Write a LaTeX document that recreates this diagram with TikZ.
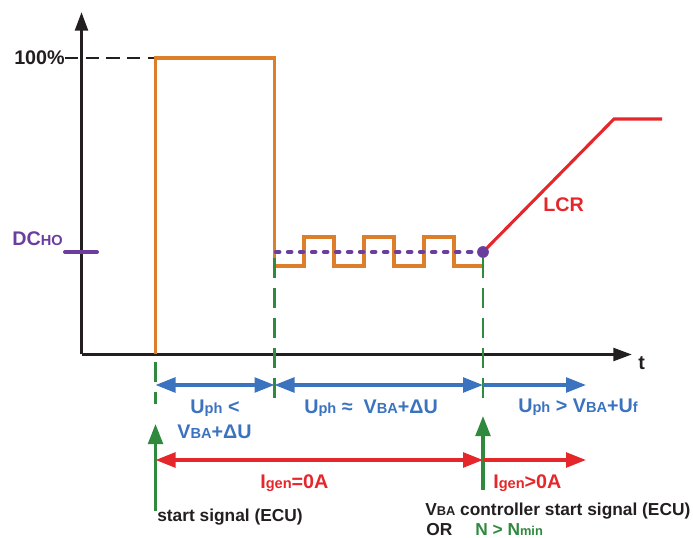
\documentclass[tikz,border=0pt]{standalone}
\usepackage{fontspec}
\usepackage{graphicx}
\setmainfont{Liberation Sans}
\usetikzlibrary{arrows.meta}

\definecolor{axisblack}{HTML}{231F20}
\definecolor{pwmorange}{HTML}{DD7E2A}
\definecolor{volblue}{HTML}{3B73BE}
\definecolor{curred}{HTML}{E5262B}
\definecolor{siggreen}{HTML}{2F8A3E}
\definecolor{dcpurple}{HTML}{6B3E9E}

% smaller letters that sit on the baseline (Uph, VBA, Igen ...)
\newcommand\smallpart[1]{\scalebox{0.74}{#1}}

\begin{document}
\begin{tikzpicture}[x=0.75pt,y=-0.75pt,
  lbl/.style={font=\bfseries\fontsize{14.8}{17}\selectfont, inner sep=0pt},
  note/.style={font=\bfseries\fontsize{13}{15}\selectfont, inner sep=0pt},
  axis/.style={draw=axisblack, line width=2.4pt, -{Triangle[length=14pt,width=9.5pt]}},
  pwm/.style={draw=pwmorange, line width=2.9pt, line join=miter},
  marker/.style={draw=siggreen, line width=1.7pt, dash pattern=on 15pt off 7.5pt},
  sigarrow/.style={draw=siggreen, line width=2.5pt, -{Triangle[length=15pt,width=11pt]}},
  uspan/.style={draw=volblue, line width=2.6pt, {Triangle[length=15pt,width=11pt]}-{Triangle[length=15pt,width=11pt]}},
  uray/.style={draw=volblue, line width=2.6pt, -{Triangle[length=15pt,width=11pt]}},
  ispan/.style={draw=curred, line width=2.6pt, {Triangle[length=15pt,width=11pt]}-{Triangle[length=15pt,width=11pt]}},
  iray/.style={draw=curred, line width=2.6pt, -{Triangle[length=15pt,width=11pt]}},
]
\useasboundingbox (0,0) rectangle (693,538);

% axes
\coordinate (origin) at (81.5,354.5);
\coordinate (ytop) at (81.5,12);
\coordinate (xend) at (632,354.5);
\draw[axis] (origin) -- (ytop);
\draw[axis] (origin) -- (xend);
\node[lbl, text=axisblack, anchor=base west] (tlabel) at (638,370) {t};

% 100 % level
\node[lbl, text=axisblack, anchor=base west] (pct) at (14,65) {100\%};
\coordinate (fullA) at (65,58);
\coordinate (fullB) at (155.5,58);
\draw[axisblack, line width=1.6pt, dash pattern=on 10pt off 5.5pt] (fullA) -- (fullB);

% DC_HO level
\node[lbl, text=dcpurple, anchor=base west] (dcho) at (12,246) {DC\smallpart{HO}};
\coordinate (dcA) at (65,252);
\coordinate (dcB) at (97,252);
\draw[dcpurple, line width=3pt, line cap=round] (dcA) -- (dcB);

% time markers
\coordinate (t0) at (155.5,354.5);
\coordinate (t1) at (274.5,266);
\coordinate (t2) at (483,252);

% excitation duty cycle
\draw[pwm] (t0) -- (155.5,58) -- (274.5,58) -- (274.5,266)
  -- (304,266) -- (304,237) -- (334,237) -- (334,266)
  -- (364,266) -- (364,237) -- (394,237) -- (394,266)
  -- (424,266) -- (424,237) -- (454,237) -- (454,266) -- (483,266);

% DC_HO dotted level and load response ramp
\coordinate (dotA) at (276,252);
\draw[dcpurple, line width=3.2pt, line cap=round, dash pattern=on 2.5pt off 6.5pt] (dotA) -- (t2);
\coordinate (lcrTop) at (614,119);
\coordinate (lcrEnd) at (662,119);
\draw[curred, line width=2.3pt] (t2) -- (lcrTop) -- (lcrEnd);
\fill[dcpurple] (t2) circle (4.4pt);
\node[lbl, text=curred, anchor=base west] (lcr) at (543,212) {LCR};

% green dashed markers
\coordinate (m0a) at (155.5,362);
\coordinate (m0b) at (155.5,404);
\coordinate (m1a) at (274.5,258);
\coordinate (m1b) at (274.5,400);
\coordinate (m2a) at (483,258);
\coordinate (m2b) at (483,402);
\draw[marker] (m0a) -- (m0b);
\draw[marker] (m1a) -- (m1b);
\draw[marker] (m2a) -- (m2b);

% start signal arrows
\coordinate (s0b) at (155.5,511);
\coordinate (s0t) at (155.5,424);
\coordinate (s2b) at (483,490);
\coordinate (s2t) at (483,416);
\draw[sigarrow] (s0b) -- (s0t);
\draw[sigarrow] (s2b) -- (s2t);

% phase voltage intervals
\coordinate (u0) at (155.5,385);
\coordinate (u1) at (274.5,385);
\coordinate (u2) at (483,385);
\coordinate (u3) at (586,385);
\draw[uspan] (u0) -- (u1);
\draw[uspan] (u1) -- (u2);
\draw[uray] (u2) -- (u3);
\node[lbl, text=volblue, anchor=base] (ulow1) at (215,413) {U\smallpart{ph} <};
\node[lbl, text=volblue, anchor=base] (ulow2) at (214.5,439) {V\smallpart{BA}+ΔU};
\node[lbl, text=volblue, anchor=base west] (uapprox) at (304,413) {U\smallpart{ph} ≈\ \ V\smallpart{BA}+ΔU};
\node[lbl, text=volblue, anchor=base west] (uhigh) at (518,412) {U\smallpart{ph} > V\smallpart{BA}+U\smallpart{f}};

% generator current intervals
\coordinate (i0) at (155.5,460);
\coordinate (i2) at (483,460);
\coordinate (i3) at (586,460);
\draw[ispan] (i0) -- (i2);
\draw[iray] (i2) -- (i3);
\node[lbl, text=curred, anchor=base west] (izero) at (260,488) {I\smallpart{gen}=0A};
\node[lbl, text=curred, anchor=base west] (ipos) at (493,488) {I\smallpart{gen}>0A};

% start conditions
\node[note, text=axisblack, anchor=base west] (ecu) at (157,521) {start signal (ECU)};
\node[note, text=axisblack, anchor=base west] (vba) at (425,515) {V\smallpart{BA} controller start signal (ECU)};
\node[note, text=axisblack, anchor=base west] (orw) at (426,535) {OR};
\node[note, text=siggreen, anchor=base west] (nmin) at (475,535) {N > N\smallpart{min}};
\end{tikzpicture}
\end{document}
